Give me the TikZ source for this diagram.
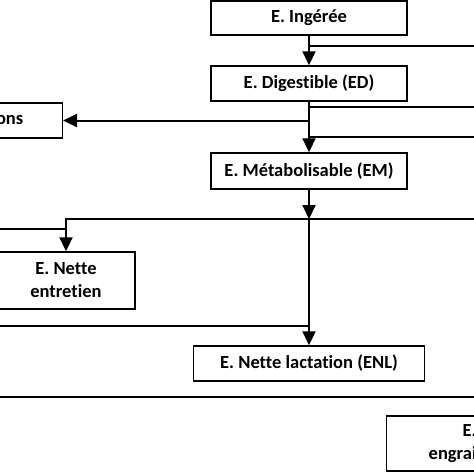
\documentclass[tikz,border=0pt]{standalone}
\usepackage{fontspec}
\setmainfont{Carlito}[Ligatures=NoCommon]
\usetikzlibrary{arrows.meta}
\begin{document}
\begin{tikzpicture}[x=1pt,y=-1pt,
  box/.style={draw=black, line width=1.4pt, fill=white, font=\bfseries\fontsize{18.5}{23}\selectfont, inner sep=0pt, align=center},
  conn/.style={line width=2pt},
  arr/.style={conn, -{Triangle[width=13pt,length=14pt]}}]
\useasboundingbox (0,0) rectangle (474,474);
% nodes
\node[box, minimum width=196pt, minimum height=34pt] (ing) at (309,18) {E. Ingérée};
\node[box, minimum width=196pt, minimum height=35pt] (ed) at (309,83.5) {E. Digestible (ED)};
\node[box, minimum width=196pt, minimum height=36pt] (em) at (309,171) {E. Métabolisable (EM)};
\node[box, minimum width=231pt, minimum height=35pt] (enl) at (309,363.5) {E. Nette lactation (ENL)};
\node[box, minimum width=138pt, minimum height=57pt] (ent) at (66,280.5) {E. Nette\\entretien};
\node[box, anchor=east, minimum height=35pt, text width=60pt, inner xsep=39pt, align=right] (ons) at (63,120.5) {ons};
\node[box, anchor=west, minimum height=55pt, text width=110pt, inner xsep=42pt, align=left] (eng) at (386,443.5) {\hspace*{34pt}E. N\\engrai};
% free ends
\coordinate (r1) at (474,46);
\coordinate (r2) at (474,107);
\coordinate (r3) at (474,137);
\coordinate (j) at (309,219);
\coordinate (r4) at (474,219);
\coordinate (l1) at (0,229);
\coordinate (l2) at (0,326);
\coordinate (l3) at (0,397);
\coordinate (r5) at (474,397);
% connectors
\draw[arr] (ing.south) -- (ed.north);
\draw[conn] (ing.south |- r1) -- (r1);
\draw[arr] (ed.south) -- (em.north);
\draw[conn] (ed.south |- r2) -- (r2);
\draw[conn] (ed.south |- r3) -- (r3);
\draw[arr] (ed.south |- ons.east) -- (ons.east);
\draw[arr] (em.south) -- (j);
\draw[arr] (r4) -- (ent.north |- j) -- (ent.north);
\draw[conn] (l1) -- (ent.north |- l1);
\draw[arr] (j) -- (enl.north);
\draw[conn] (l2) -- (enl.north |- l2);
\draw[conn] (l3) -- (r5);
\end{tikzpicture}
\end{document}
